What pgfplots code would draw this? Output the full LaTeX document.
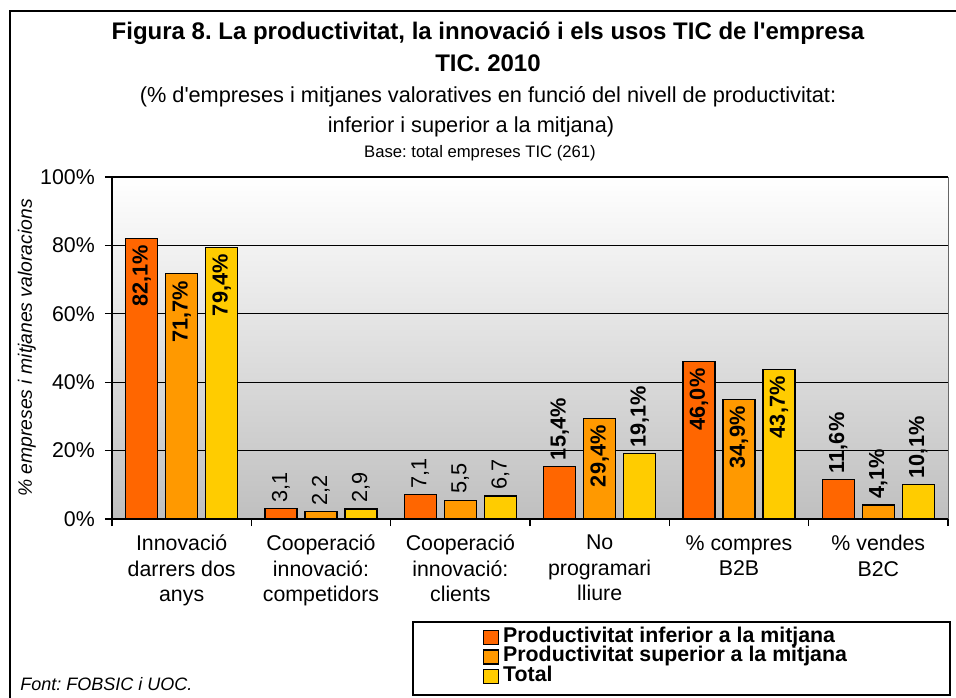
\documentclass[border=0pt]{standalone}
\usepackage{fontspec}
\setmainfont{Liberation Sans}[Ligatures=TeXOff]
\usepackage{pgfplots}
\pgfplotsset{compat=1.18}

\definecolor{cA}{HTML}{FF6600}
\definecolor{cB}{HTML}{FF9900}
\definecolor{cC}{HTML}{FFCC00}

\newcommand{\numfmt}[1]{\pgfmathprintnumber[fixed,fixed zerofill,precision=1,use comma,assume math mode=true]{#1}}

\pgfplotsset{
  barsq/.style={legend image code/.code={\draw[##1, draw=black, line width=0.9pt] (0pt,-5.25pt) rectangle (11pt,5.25pt);}},
  series/.style 2 args={ybar, bar width=24pt, bar shift=#1, fill=#2, draw=black, line width=1pt, barsq},
  lab/.style={ybar, bar width=24pt, bar shift=0pt, draw=none, fill=none, forget plot},
  inpct/.style={nodes near coords={\bfseries\numfmt{\pgfplotspointmeta}\%},
    every node near coord/.append style={xshift=#1, rotate=90, anchor=east, font=\fontsize{16.3}{18}\selectfont, inner xsep=5pt, inner ysep=0pt, text=black}},
  uppct/.style={nodes near coords={\bfseries\numfmt{\pgfplotspointmeta}\%},
    every node near coord/.append style={xshift=#1, rotate=90, anchor=west, font=\fontsize{16.3}{18}\selectfont, inner xsep=4.5pt, inner ysep=0pt, text=black}},
  upnum/.style={nodes near coords={\numfmt{\pgfplotspointmeta}},
    every node near coord/.append style={xshift=#1, rotate=90, anchor=west, font=\fontsize{16.3}{18}\selectfont, inner xsep=4.5pt, inner ysep=0pt, text=black}},
}

\begin{document}
\frenchspacing
\begin{tikzpicture}
\useasboundingbox (0,0) rectangle (717pt,522.75pt);
\fill[white] (0,0) rectangle (717pt,522.75pt);
% outer frame (top and left visible)
\draw[line width=1.1pt] (730pt,514.5pt) -- (7.5pt,514.5pt) -- (7.5pt,-10pt);

\begin{axis}[
  at={(84pt,133.5pt)}, anchor=south west,
  scale only axis, width=627pt, height=256.5pt,
  xmin=-0.5, xmax=5.5, ymin=0, ymax=100,
  axis lines*=left,
  axis line style={line width=1.2pt, black},
  axis background/.style={shade, top color=white, bottom color=black!25},
  ytick={0,20,...,100},
  yticklabel={\pgfmathprintnumber[assume math mode=true]{\tick}\%},
  yticklabel style={font=\fontsize{16}{19}\selectfont, inner sep=0pt, xshift=-7.5pt},
  ymajorgrids, grid style={black, line width=1pt},
  tick align=outside, major tick length=5.25pt,
  tick style={black, line width=1pt},
  xtick={-0.5,0.5,...,5.5}, xticklabels={},
  extra x ticks={0,1,2,3,4,5},
  extra x tick labels={{Innovació\\darrers dos\\anys},{Cooperació\\innovació:\\competidors},{Cooperació\\innovació:\\clients},{No\\programari\\lliure},{\% compres\\B2B},{\% vendes\\B2C}},
  extra x tick style={major tick length=0pt,
    tick label style={font=\fontsize{16}{19.1}\selectfont, align=center, anchor=north, inner sep=0pt, yshift=-12pt}},
  ylabel={\itshape \% empreses i mitjanes valoracions},
  ylabel style={at={(rel axis cs:0,0.5)}, anchor=center, yshift=63.75pt, font=\fontsize{14.5}{17}\selectfont, inner sep=0pt},
  legend style={at={(0.4438,-0.3180)}, anchor=north west, draw=none, fill=none, inner sep=0pt,
    font=\fontsize{16}{16}\selectfont\bfseries, row sep=0pt,
    nodes={inner sep=0pt, text height=10.75pt, text depth=3.75pt, anchor=west},
    /tikz/every odd column/.append style={column sep=3pt}},
  legend cell align=left,
  clip=false,
]
% bars
\addplot[series={-30pt}{cA}] coordinates {(0,82.1) (1,3.1) (2,7.1) (3,15.4) (4,46.0) (5,11.6)};
\addplot[series={0pt}{cB}] coordinates {(0,71.7) (1,2.2) (2,5.5) (3,29.4) (4,34.9) (5,4.1)};
\addplot[series={30pt}{cC}] coordinates {(0,79.4) (1,2.9) (2,6.7) (3,19.1) (4,43.7) (5,10.1)};
\legend{Productivitat inferior a la mitjana, Productivitat superior a la mitjana, Total}
% value labels
\addplot[lab, inpct=-30pt] coordinates {(0,82.1) (4,46.0)};
\addplot[lab, uppct=-30pt] coordinates {(3,15.4) (5,11.6)};
\addplot[lab, upnum=-30pt] coordinates {(1,3.1) (2,7.1)};
\addplot[lab, inpct=0pt] coordinates {(0,71.7) (3,29.4) (4,34.9)};
\addplot[lab, uppct=0pt] coordinates {(5,4.1)};
\addplot[lab, upnum=0pt] coordinates {(1,2.2) (2,5.5)};
\addplot[lab, inpct=30pt] coordinates {(0,79.4) (4,43.7)};
\addplot[lab, uppct=30pt] coordinates {(3,19.1) (5,10.1)};
\addplot[lab, upnum=30pt] coordinates {(1,2.9) (2,6.7)};
\draw[black!60, line width=0.6pt] (rel axis cs:1,0) -- (rel axis cs:1,1);
\end{axis}

% legend frame
\draw[line width=1.1pt] (309.75pt,1.5pt) rectangle (712.5pt,56.25pt);

% titles
\node[anchor=base, font=\fontsize{18}{20}\selectfont\bfseries, inner sep=0pt] at (366pt,492.75pt) {Figura 8. La productivitat, la innovació i els usos TIC de l'empresa};
\node[anchor=base, font=\fontsize{18}{20}\selectfont\bfseries, inner sep=0pt] at (366pt,468.75pt) {TIC. 2010};
\node[anchor=base, font=\fontsize{16.3}{19}\selectfont, inner sep=0pt] at (366pt,445.5pt) {(\% d'empreses i mitjanes valoratives en funció del nivell de productivitat:};
\node[anchor=base, font=\fontsize{16.3}{19}\selectfont, inner sep=0pt] at (353.25pt,423pt) {inferior i superior a la mitjana)};
\node[anchor=base, font=\fontsize{12.5}{15}\selectfont, inner sep=0pt] at (360pt,404.25pt) {Base: total empreses TIC (261)};
\node[anchor=base west, font=\fontsize{13.5}{16}\selectfont\itshape, inner sep=0pt] at (15pt,5.25pt) {Font: FOBSIC i UOC.};
\end{tikzpicture}
\end{document}
